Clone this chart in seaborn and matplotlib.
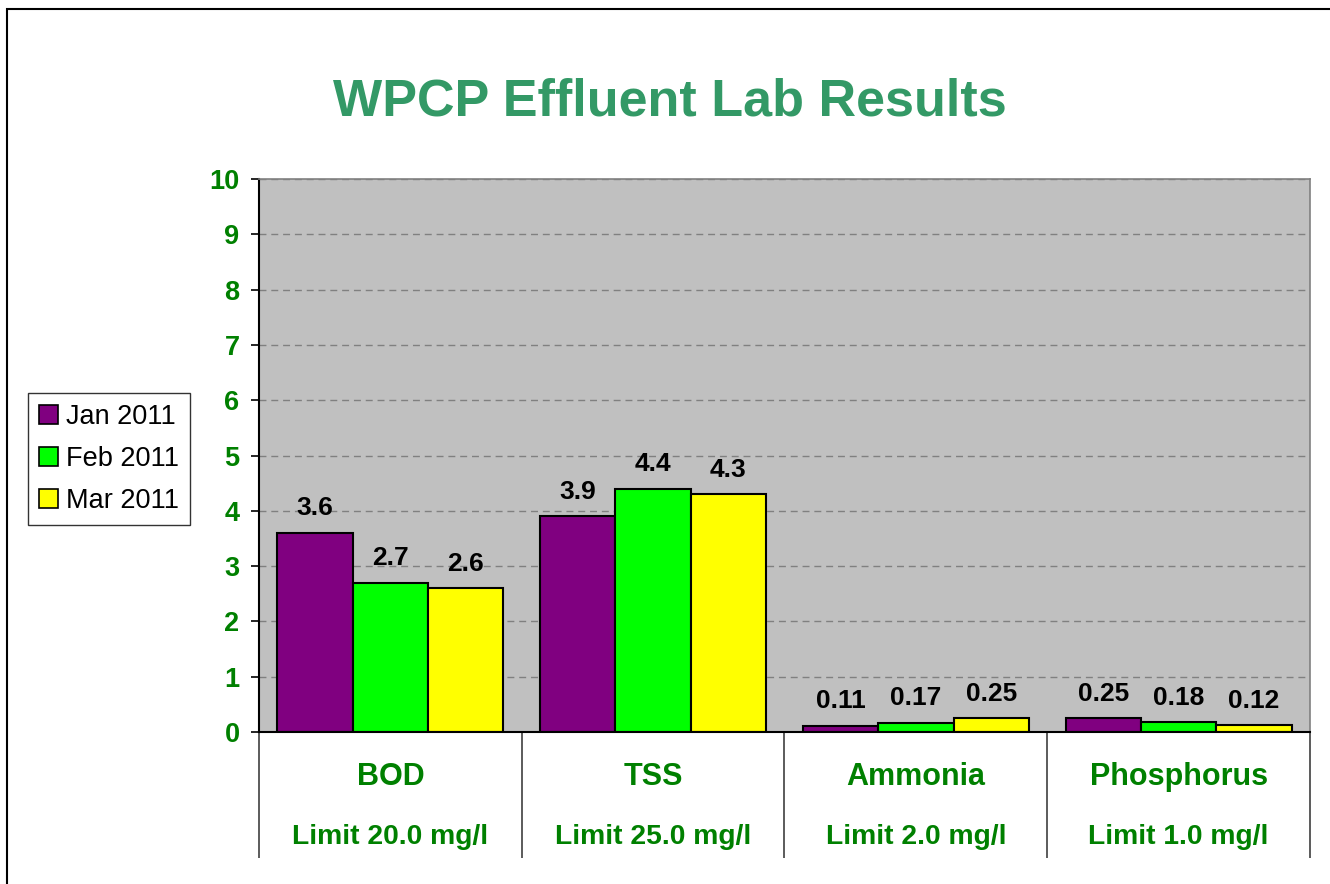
import matplotlib
matplotlib.use("Agg")
import matplotlib.pyplot as plt
import matplotlib.patches as mpatches
import seaborn as sns
import pandas as pd

# chart values
parameters = ["BOD", "TSS", "Ammonia", "Phosphorus"]
limits = ["Limit 20.0 mg/l", "Limit 25.0 mg/l", "Limit 2.0 mg/l", "Limit 1.0 mg/l"]
months = ["Jan 2011", "Feb 2011", "Mar 2011"]
jan_values = [3.6, 3.9, 0.11, 0.25]
feb_values = [2.7, 4.4, 0.17, 0.18]
mar_values = [2.6, 4.3, 0.25, 0.12]
colors = ["#800080", "#00FF00", "#FFFF00"]

# long table for seaborn
rows = []
for month, vals in zip(months, [jan_values, feb_values, mar_values]):
    for p, v in zip(parameters, vals):
        rows.append({"Parameter": p, "Month": month, "Value": v})
df = pd.DataFrame(rows)

sns.set_style("white")
plt.rcParams["font.family"] = ["Liberation Sans", "DejaVu Sans"]
plt.rcParams["text.color"] = "black"

green = "#008000"
fig = plt.figure(figsize=(13.3, 8.84), dpi=100)
ax = fig.add_axes([259 / 1330, (884 - 732) / 884, 1051 / 1330, 553 / 884])
ax.set_facecolor("#C0C0C0")

sns.barplot(data=df, x="Parameter", y="Value", hue="Month", order=parameters,
            hue_order=months, palette=colors, edgecolor="black", linewidth=1.5,
            width=0.86, saturation=1, ax=ax)

# value labels above bars
for cont in ax.containers:
    ax.bar_label(cont, fmt="%g", padding=9, fontsize=19, fontweight="bold", color="black")

ax.set_ylim(0, 10)
ax.set_xlim(-0.5, 3.5)
ax.set_yticks(range(0, 11))
ax.yaxis.grid(True, linestyle=(0, (5, 3.5)), color="#808080", linewidth=1)
ax.set_axisbelow(True)
ax.tick_params(axis="y", which="major", direction="out", length=6, width=1.2,
               color="black", labelsize=19.5, labelcolor=green, pad=8, left=True)
for lbl in ax.get_yticklabels():
    lbl.set_fontweight("bold")

# category labels and long separator ticks below the axis
ax.set_xticks(range(len(parameters)))
ax.set_xticklabels([])
ax.tick_params(axis="x", which="major", length=0)
ax.set_xticks([-0.5, 0.5, 1.5, 2.5, 3.5], minor=True)
ax.tick_params(axis="x", which="minor", direction="out", length=91, width=1.2,
               color="#404040", bottom=True)
for i, (p, lim) in enumerate(zip(parameters, limits)):
    ax.text(i, -0.081, p, transform=ax.get_xaxis_transform(), ha="center",
            va="center", fontsize=22, fontweight="bold", color=green)
    ax.text(i, -0.19, lim, transform=ax.get_xaxis_transform(), ha="center",
            va="center", fontsize=20.3, fontweight="bold", color=green)

ax.set_xlabel("")
ax.set_ylabel("")
for side in ["left", "bottom"]:
    ax.spines[side].set_color("black")
    ax.spines[side].set_linewidth(1.5)
for side in ["top", "right"]:
    ax.spines[side].set_color("#808080")
    ax.spines[side].set_linewidth(1.2)

# legend on the left outside the plot
ax.get_legend().remove()
handles = [mpatches.Patch(facecolor=c, edgecolor="black", linewidth=1.2) for c in colors]
leg = fig.legend(handles, months, loc="upper left", bbox_to_anchor=(28 / 1330, 1 - 393 / 884),
                 fontsize=19.5, frameon=True, fancybox=False, edgecolor="black",
                 handlelength=0.7, handleheight=0.7, handletextpad=0.3,
                 labelspacing=0.6, borderpad=0.4, borderaxespad=0)
leg.get_frame().set_linewidth(1.0)
for t in leg.get_texts():
    t.set_color("black")

fig.text(670 / 1330, 1 - 102 / 884, "WPCP Effluent Lab Results", ha="center", va="center",
         fontsize=37.5, fontweight="bold", color="#339966")

# outer chart frame (right and bottom edges run off the picture)
frame = mpatches.Rectangle((7 / 1330, -0.2), 1.2, 1.2 - 9 / 884, transform=fig.transFigure,
                           fill=False, edgecolor="black", linewidth=1.5)
fig.patches.append(frame)

fig.savefig("out.png", dpi=100)
